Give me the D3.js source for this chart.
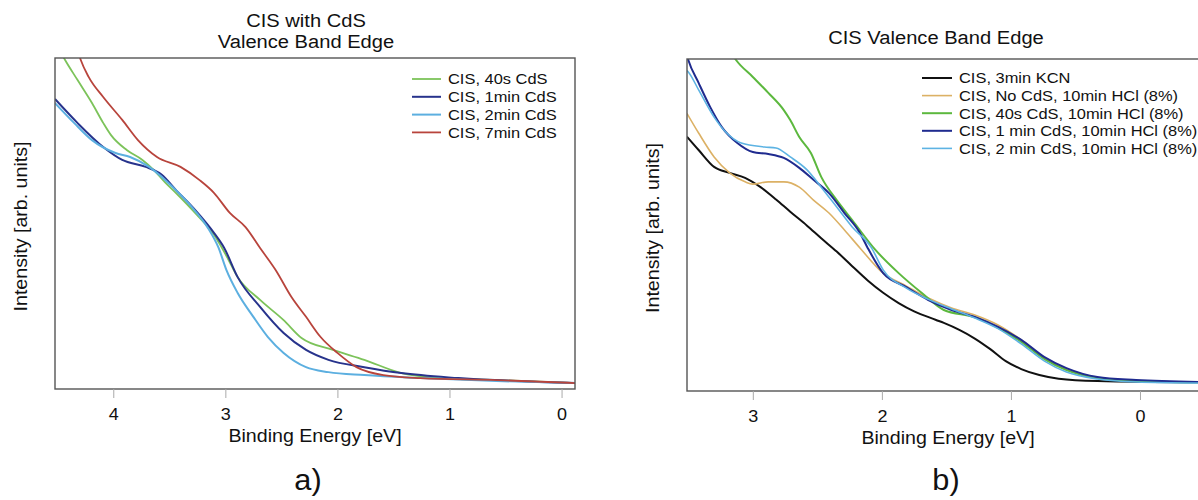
<!DOCTYPE html>
<html>
<head>
<meta charset="utf-8">
<script src="https://cdn.jsdelivr.net/npm/d3@7"></script>
<style>
  body { margin: 0; background: #fff; }
  text { font-family: "Liberation Sans", Arial, sans-serif; fill: #111; }
</style>
</head>
<body>
<div id="chart"></div>
<script>
// panel a) CIS with CdS, [binding energy eV, intensity]
const cisCds40s = [[4.52,105],[4.43,99.4],[4.32,93.4],[4.19,86.4],[4.09,80.4],[4.02,76.7],[3.88,72.2],[3.74,69.2],[3.64,66.2],[3.54,62.5],[3.44,59.2],[3.27,53.2],[3.10,46.5],[2.99,40.2],[2.89,33.8],[2.69,26.9],[2.48,20.8],[2.32,15.4],[2.04,11.8],[1.76,8.8],[1.43,4.8],[1.09,3.3],[0.58,2.7],[-0.12,1.8]]
const cisCds1min = [[4.52,87.6],[4.32,80.4],[4.09,73.1],[3.92,69.2],[3.71,67.1],[3.57,64.8],[3.44,60.1],[3.27,54.1],[3.10,47.1],[3.01,42.6],[2.89,33.8],[2.69,24.8],[2.48,16.9],[2.28,11.8],[2.08,8.8],[1.76,6.6],[1.43,4.8],[0.92,3.3],[-0.12,1.8]]
const cisCds2min = [[4.52,86.4],[4.35,80.4],[4.19,75.2],[3.98,71.3],[3.85,70.1],[3.68,67.1],[3.47,61.0],[3.30,55.0],[3.16,48.9],[3.06,42.6],[2.99,35.9],[2.89,29.0],[2.75,21.8],[2.62,15.7],[2.48,10.9],[2.28,6.6],[2.08,5.1],[1.76,4.2],[1.26,3.3],[0.58,2.4],[-0.12,1.8]]
const cisCds7min = [[4.34,105],[4.29,99.4],[4.22,94.3],[4.09,88.2],[3.92,81.3],[3.78,75.2],[3.61,70.1],[3.40,67.1],[3.23,63.1],[3.10,59.2],[2.96,53.2],[2.82,48.9],[2.69,42.6],[2.55,35.9],[2.41,27.8],[2.28,21.8],[2.15,15.7],[2.00,10.9],[1.83,6.6],[1.59,4.2],[1.26,3.3],[0.58,2.7],[-0.12,1.8]]

// panel b) CIS after HCl etch
const kcn3min = [[3.51,76.6],[3.42,72.6],[3.30,67.5],[3.18,65.7],[3.06,64.2],[2.94,61.4],[2.82,57.7],[2.71,54.0],[2.58,49.8],[2.47,46.0],[2.35,42.0],[2.23,37.6],[2.11,33.3],[1.99,29.6],[1.87,26.5],[1.75,24.0],[1.58,21.4],[1.52,20.5],[1.40,18.4],[1.28,15.8],[1.16,12.6],[1.04,9.0],[0.92,6.6],[0.78,4.8],[0.63,3.7],[0.33,3.0],[-0.47,2.6]]
const noCdsHcl = [[3.51,83.6],[3.42,77.7],[3.30,70.5],[3.18,65.7],[3.06,63.0],[3.00,62.3],[2.88,63.0],[2.76,63.0],[2.64,61.4],[2.53,57.5],[2.41,53.6],[2.29,48.5],[2.17,43.1],[1.99,35.5],[1.81,31.6],[1.64,28.0],[1.46,25.0],[1.28,22.9],[1.10,19.9],[0.92,15.4],[0.74,9.9],[0.57,6.6],[0.33,3.9],[0.03,3.0],[-0.47,2.7]]
const cds40sHcl = [[3.20,104],[3.13,99.7],[3.00,94.6],[2.88,89.8],[2.76,84.6],[2.71,81.6],[2.64,76.5],[2.55,71.7],[2.47,64.5],[2.35,57.5],[2.23,51.5],[2.05,42.5],[1.87,35.5],[1.69,29.5],[1.52,24.4],[1.28,22.2],[1.10,19.0],[0.92,14.8],[0.74,9.6],[0.57,6.3],[0.33,3.9],[0.03,3.0],[-0.47,2.6]]
const cds1minHcl = [[3.51,101],[3.50,99.7],[3.42,92.8],[3.33,85.5],[3.24,79.5],[3.12,74.7],[3.00,72.0],[2.88,71.4],[2.76,70.2],[2.64,67.2],[2.53,63.6],[2.41,59.6],[2.29,53.6],[2.17,47.6],[2.11,43.1],[1.99,35.5],[1.81,31.3],[1.64,27.4],[1.46,24.4],[1.28,22.3],[1.10,19.3],[0.92,15.4],[0.74,10.2],[0.57,6.9],[0.33,4.2],[0.03,3.3],[-0.47,2.7]]
const cds2minHcl = [[3.51,96.5],[3.50,96.1],[3.42,90.7],[3.30,82.5],[3.21,78.0],[3.09,74.7],[2.91,73.5],[2.82,73.2],[2.71,70.5],[2.58,66.6],[2.47,61.4],[2.35,55.4],[2.23,49.4],[2.08,43.1],[1.99,36.5],[1.81,31.0],[1.64,27.6],[1.46,24.7],[1.28,22.0],[1.10,18.8],[0.92,14.2],[0.74,9.0],[0.57,5.7],[0.33,3.6],[0.03,2.7],[-0.47,2.4]]

const ticksA = [4, 3, 2, 1, 0]
const ticksB = [3, 2, 1, 0]

const seriesA = [
  {name: "CIS, 40s CdS", data: cisCds40s, color: "#7cc35a", w: 1.8},
  {name: "CIS, 1min CdS", data: cisCds1min, color: "#27338c", w: 2},
  {name: "CIS, 2min CdS", data: cisCds2min, color: "#5cafe0", w: 2},
  {name: "CIS, 7min CdS", data: cisCds7min, color: "#b8443c", w: 1.8}
]
const seriesB = [
  {name: "CIS, 3min KCN", data: kcn3min, color: "#111111", w: 2},
  {name: "CIS, No CdS, 10min HCl (8%)", data: noCdsHcl, color: "#dcb165", w: 1.6},
  {name: "CIS, 40s CdS, 10min HCl (8%)", data: cds40sHcl, color: "#5cb83e", w: 2},
  {name: "CIS, 1 min CdS, 10min HCl (8%)", data: cds1minHcl, color: "#1f2b8f", w: 2},
  {name: "CIS, 2 min CdS, 10min HCl (8%)", data: cds2minHcl, color: "#5db3e3", w: 1.6}
]

const STRETCH = 1.06  // the reference type is a touch wider than Liberation Sans

const svg = d3.select("#chart").append("svg")
  .attr("width", 1198)
  .attr("height", 500)

function label(parent, x, y, str, size, rotate) {
  return parent.append("text")
    .attr("transform", `translate(${x}, ${y})${rotate ? " rotate(-90)" : ""} scale(${STRETCH}, 1)`)
    .attr("text-anchor", "middle")
    .attr("font-size", size)
    .text(str)
}

function panel(opt) {
  const x = d3.scaleLinear().domain(opt.xDomain).range([opt.left, opt.right])
  const y = d3.scaleLinear().domain([0, 100]).range([opt.bottom, opt.top])
  const g = svg.append("g")

  g.append("clipPath").attr("id", opt.id)
    .append("rect")
      .attr("x", opt.left).attr("y", opt.top)
      .attr("width", opt.right - opt.left).attr("height", opt.bottom - opt.top)

  const line = d3.line()
    .x(d => x(d[0]))
    .y(d => y(d[1]))
    .curve(d3.curveMonotoneX)

  g.append("g").attr("clip-path", `url(#${opt.id})`)
    .selectAll("path")
    .data(opt.series)
    .enter().append("path")
      .attr("d", d => line(d.data))
      .attr("fill", "none")
      .attr("stroke", d => d.color)
      .attr("stroke-width", d => d.w)

  // frame
  g.append("rect")
    .attr("x", opt.left).attr("y", opt.top)
    .attr("width", opt.right - opt.left).attr("height", opt.bottom - opt.top)
    .attr("fill", "none")
    .attr("stroke", "#555")
    .attr("stroke-width", 1.4)

  const xAxis = g.append("g")
    .attr("transform", `translate(0, ${opt.bottom})`)
    .call(d3.axisBottom(x).tickValues(opt.ticks).tickFormat(d3.format("d")).tickSize(9).tickPadding(10))
  xAxis.select(".domain").remove()
  xAxis.selectAll(".tick line").attr("stroke", "#aaa")
  xAxis.selectAll(".tick text")
    .attr("font-size", 17)
    .attr("font-family", "Liberation Sans, Arial, sans-serif")
    .attr("fill", "#111")
    .attr("transform", `scale(${STRETCH}, 1)`)

  label(g, opt.xLabelX, opt.bottom + 53, "Binding Energy [eV]", 18.5)
  label(g, opt.yLabelX, (opt.top + opt.bottom) / 2 + 3, "Intensity [arb. units]", 18.5, true)

  opt.title.forEach((t, i) => label(g, opt.titleX, opt.titleY + i * 21, t, 19))

  label(g, opt.tagX, 490, opt.tag, 29)

  const lg = g.append("g")
    .attr("transform", `translate(${opt.legendX}, ${opt.legendY})`)
  const rows = lg.selectAll("g")
    .data(opt.series)
    .enter().append("g")
      .attr("transform", (d, i) => `translate(0, ${i * opt.legendStep})`)
  rows.append("line")
    .attr("x1", 0).attr("x2", opt.legendLine)
    .attr("stroke", d => d.color)
    .attr("stroke-width", d => d.w)
  rows.append("text")
    .attr("transform", `translate(${opt.legendLine + 7}, 0) scale(${STRETCH}, 1)`)
    .attr("dy", "0.35em")
    .attr("font-size", 15.5)
    .text(d => d.name)
}

panel({
  id: "clipA", series: seriesA, ticks: ticksA,
  xDomain: [4.52, -0.12], left: 55, right: 575, top: 58, bottom: 389,
  title: ["CIS with CdS", "Valence Band Edge"], titleX: 306, titleY: 27,
  xLabelX: 315, yLabelX: 27, tag: "a)", tagX: 308,
  legendX: 412, legendY: 79, legendStep: 17.8, legendLine: 29
})

panel({
  id: "clipB", series: seriesB, ticks: ticksB,
  xDomain: [3.51, -0.465], left: 687, right: 1200, top: 59, bottom: 391,
  title: ["CIS Valence Band Edge"], titleX: 936, titleY: 44,
  xLabelX: 948, yLabelX: 659, tag: "b)", tagX: 946,
  legendX: 922, legendY: 78, legendStep: 17.6, legendLine: 30
})
</script>
</body>
</html>
